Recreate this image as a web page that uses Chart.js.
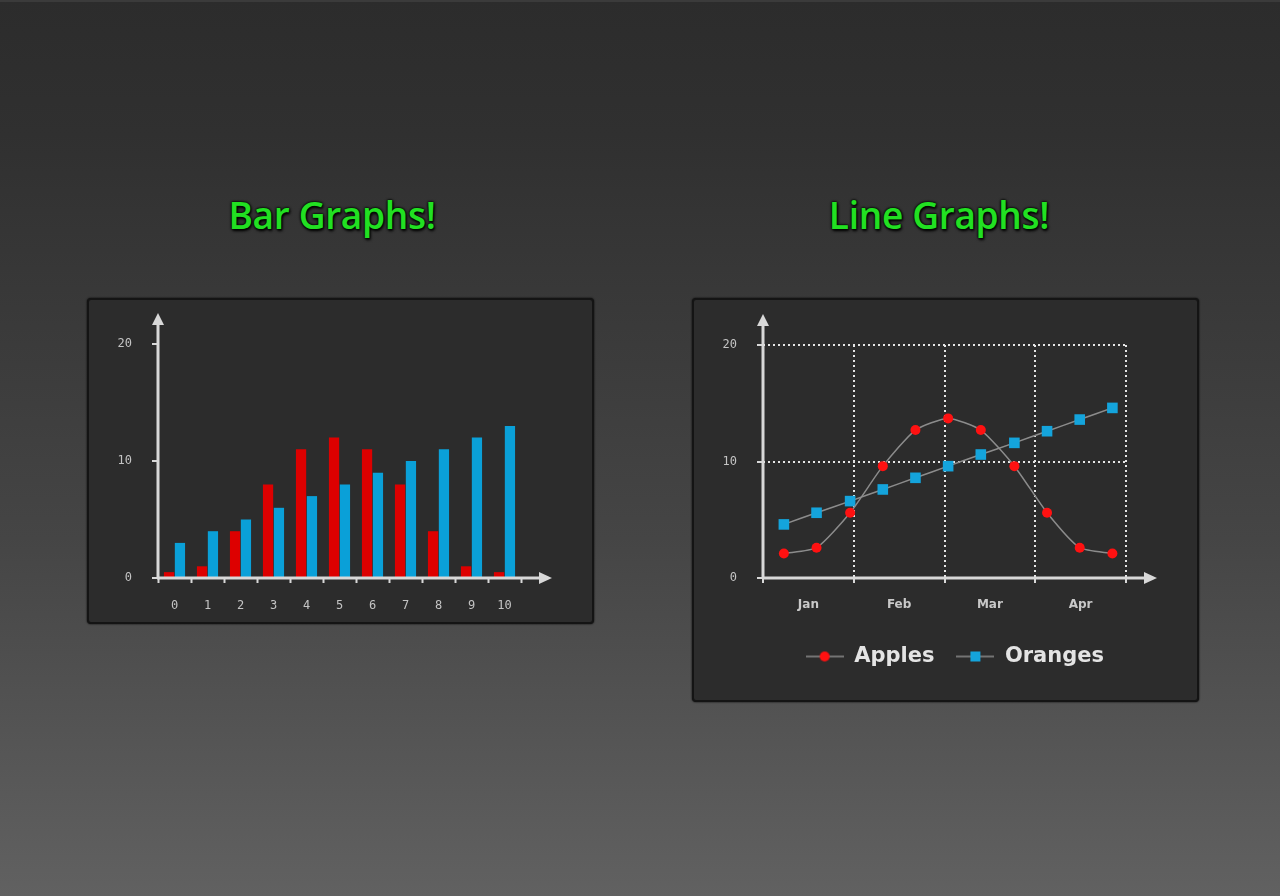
<!DOCTYPE html>
<html>
<head>
<meta charset="utf-8">
<script src="https://cdn.jsdelivr.net/npm/chart.js@4"></script>
<style>
  html, body { margin: 0; padding: 0; }
  body {
    width: 1280px; height: 896px; overflow: hidden; position: relative;
    background: linear-gradient(to bottom, #2c2c2c 0%, #303030 15%, #454545 60%, #616161 100%);
    box-shadow: inset 0 2px 0 #3b3b3b;
  }
  .title {
    position: absolute; width: 400px; text-align: center; line-height: 44px;
    font-family: "Open Sans", sans-serif; font-weight: 600; font-size: 37px;
    color: #22e022; letter-spacing: -0.3px;
    text-shadow: 0 0 1px #063806, 0 0 2px #000, 0 0 3px #000, 1px 2px 3px #000;
  }
  .panel {
    position: absolute; box-sizing: border-box;
    background: #2c2c2c; border: 2px solid #141414; border-radius: 4px;
    box-shadow: 0 0 2px #000;
  }
  .panel canvas { position: absolute; left: -2px; top: -2px; }
</style>
</head>
<body>
<div class="title" style="left:132px; top:193px;">Bar Graphs!</div>
<div class="title" style="left:739px; top:193px;">Line Graphs!</div>

<div class="panel" style="left:87px; top:298px; width:507px; height:326px;">
  <canvas id="barChart" width="507" height="326"></canvas>
</div>
<div class="panel" style="left:692px; top:298px; width:507px; height:404px;">
  <canvas id="lineChart" width="507" height="404"></canvas>
</div>

<script>
// bar graph values
const barLabels = ["0", "1", "2", "3", "4", "5", "6", "7", "8", "9", "10"];
const redValues = [0.5, 1, 4, 8, 11, 12, 11, 8, 4, 1, 0.5];
const blueValues = [3, 4, 5, 6, 7, 8, 9, 10, 11, 12, 13];

// line graph values
const monthLabels = ["Jan", "Feb", "Mar", "Apr"];
const monthEdges = [0, 1, 2, 3, 4];
const pointPos = [0.23, 0.59, 0.96, 1.32, 1.68, 2.04, 2.4, 2.77, 3.13, 3.49, 3.85];
const apples = [2.1, 2.6, 5.6, 9.6, 12.7, 13.7, 12.7, 9.6, 5.6, 2.6, 2.1];
const oranges = [4.6, 5.6, 6.6, 7.6, 8.6, 9.6, 10.6, 11.6, 12.6, 13.6, 14.6];

const yTicks = [0, 10, 20];

const axisColor = "#d8d8d8";
const tickFont = { family: "DejaVu Sans Mono", size: 12 };

// axis lines with arrow heads, drawn past the chart area
const axisArrows = {
  id: "axisArrows",
  afterDraw(chart) {
    const { ctx, chartArea } = chart;
    const ext = 31;
    const left = chartArea.left, bottom = chartArea.bottom;
    const yTip = chartArea.top - ext;
    const xTip = chartArea.right + ext;
    ctx.save();
    ctx.strokeStyle = axisColor;
    ctx.fillStyle = axisColor;
    ctx.lineWidth = 3;
    ctx.beginPath();
    ctx.moveTo(left, bottom + 1);
    ctx.lineTo(left, yTip + 8);
    ctx.moveTo(left - 1, bottom);
    ctx.lineTo(xTip - 8, bottom);
    ctx.stroke();
    ctx.beginPath();
    ctx.moveTo(left, yTip);
    ctx.lineTo(left - 6, yTip + 12);
    ctx.lineTo(left + 6, yTip + 12);
    ctx.closePath();
    ctx.fill();
    ctx.beginPath();
    ctx.moveTo(xTip, bottom);
    ctx.lineTo(xTip - 13, bottom - 6);
    ctx.lineTo(xTip - 13, bottom + 6);
    ctx.closePath();
    ctx.fill();
    ctx.restore();
  },
};

function yScale(width, onArea) {
  return {
    min: 0,
    max: 20,
    afterBuildTicks: (scale) => {
      scale.ticks = yTicks.map((v) => ({ value: v }));
    },
    afterFit: (scale) => {
      scale.width = width;
    },
    border: { display: false, dash: [2, 3] },
    grid: {
      drawOnChartArea: onArea,
      color: (c) => (c.tick && c.tick.value === 0 ? "transparent" : "#e6e6e6"),
      lineWidth: 2,
      tickColor: axisColor,
      tickLength: 6,
      tickWidth: 2,
    },
    ticks: { color: "#c4c4c4", font: tickFont, padding: 20 },
  };
}

new Chart(document.getElementById("barChart"), {
  type: "bar",
  data: {
    labels: barLabels,
    datasets: [
      { label: "Red", data: redValues, backgroundColor: "#dd0000" },
      { label: "Blue", data: blueValues, backgroundColor: "#0aa0d8" },
    ],
  },
  plugins: [axisArrows],
  options: {
    responsive: false,
    animation: false,
    categoryPercentage: 0.66,
    barPercentage: 0.94,
    layout: { padding: { top: 46, right: 73, left: 0, bottom: 0 } },
    scales: {
      x: {
        afterFit: (scale) => {
          scale.height = 46;
        },
        border: { display: false },
        grid: {
          drawOnChartArea: false,
          tickColor: axisColor,
          tickLength: 5,
          tickWidth: 2,
        },
        ticks: { color: "#c4c4c4", font: tickFont, padding: 16 },
      },
      y: yScale(71, false),
    },
    plugins: { legend: { display: false }, tooltip: { enabled: false } },
  },
});

function legendSymbol(color, shape) {
  const c = document.createElement("canvas");
  c.width = 38;
  c.height = 14;
  const g = c.getContext("2d");
  g.strokeStyle = "#8c8c8c";
  g.lineWidth = 1.5;
  g.beginPath();
  g.moveTo(0, 7);
  g.lineTo(38, 7);
  g.stroke();
  g.fillStyle = color;
  if (shape === "circle") {
    g.beginPath();
    g.arc(19, 7, 5, 0, Math.PI * 2);
    g.fill();
  } else {
    g.fillRect(14, 2, 10, 10);
  }
  return c;
}

const appleColor = "#ff1111";
const orangeColor = "#14a4dc";
const legendIcons = [legendSymbol(appleColor, "circle"), legendSymbol(orangeColor, "rect")];

new Chart(document.getElementById("lineChart"), {
  type: "line",
  data: {
    datasets: [
      {
        label: "Apples",
        data: pointPos.map((x, i) => ({ x: x, y: apples[i] })),
        borderColor: "#8c8c8c",
        borderWidth: 1.5,
        tension: 0.2,
        pointStyle: "circle",
        pointRadius: 5,
        pointBorderWidth: 0,
        pointBackgroundColor: appleColor,
      },
      {
        label: "Oranges",
        data: pointPos.map((x, i) => ({ x: x, y: oranges[i] })),
        borderColor: "#8c8c8c",
        borderWidth: 1.5,
        tension: 0.2,
        pointStyle: "rect",
        pointRadius: 7.5,
        pointBorderWidth: 0,
        pointBackgroundColor: orangeColor,
      },
    ],
  },
  plugins: [axisArrows],
  options: {
    responsive: false,
    animation: false,
    layout: { padding: { top: 47, right: 73, left: 0, bottom: 25 } },
    scales: {
      x: {
        type: "linear",
        min: 0,
        max: 4,
        weight: 0,
        afterBuildTicks: (scale) => {
          scale.ticks = monthEdges.map((v) => ({ value: v }));
        },
        afterFit: (scale) => {
          scale.height = 0;
        },
        border: { display: false, dash: [2, 3] },
        grid: {
          color: (c) => (c.tick && c.tick.value === 0 ? "transparent" : "#e6e6e6"),
          lineWidth: 2,
          tickColor: axisColor,
          tickLength: 5,
          tickWidth: 2,
        },
        ticks: { display: false },
      },
      months: {
        type: "category",
        labels: monthLabels,
        position: "bottom",
        offset: true,
        weight: 1,
        afterFit: (scale) => {
          scale.height = 46;
        },
        border: { display: false },
        grid: { display: false },
        ticks: {
          color: "#c8c8c8",
          font: { family: "DejaVu Sans", size: 12, weight: "bold" },
          padding: 12,
        },
      },
      y: yScale(71, true),
    },
    plugins: {
      tooltip: { enabled: false },
      legend: {
        position: "bottom",
        align: "end",
        labels: {
          usePointStyle: true,
          pointStyleWidth: 38,
          padding: 22,
          color: "#e4e4e4",
          font: { family: "DejaVu Sans", size: 21, weight: "bold" },
          generateLabels: (chart) =>
            chart.data.datasets.map((ds, i) => ({
              text: ds.label,
              pointStyle: legendIcons[i],
              fillStyle: ds.pointBackgroundColor,
              strokeStyle: "transparent",
              lineWidth: 0,
              hidden: false,
              datasetIndex: i,
              fontColor: "#e4e4e4",
            })),
        },
      },
    },
  },
});
</script>
</body>
</html>
